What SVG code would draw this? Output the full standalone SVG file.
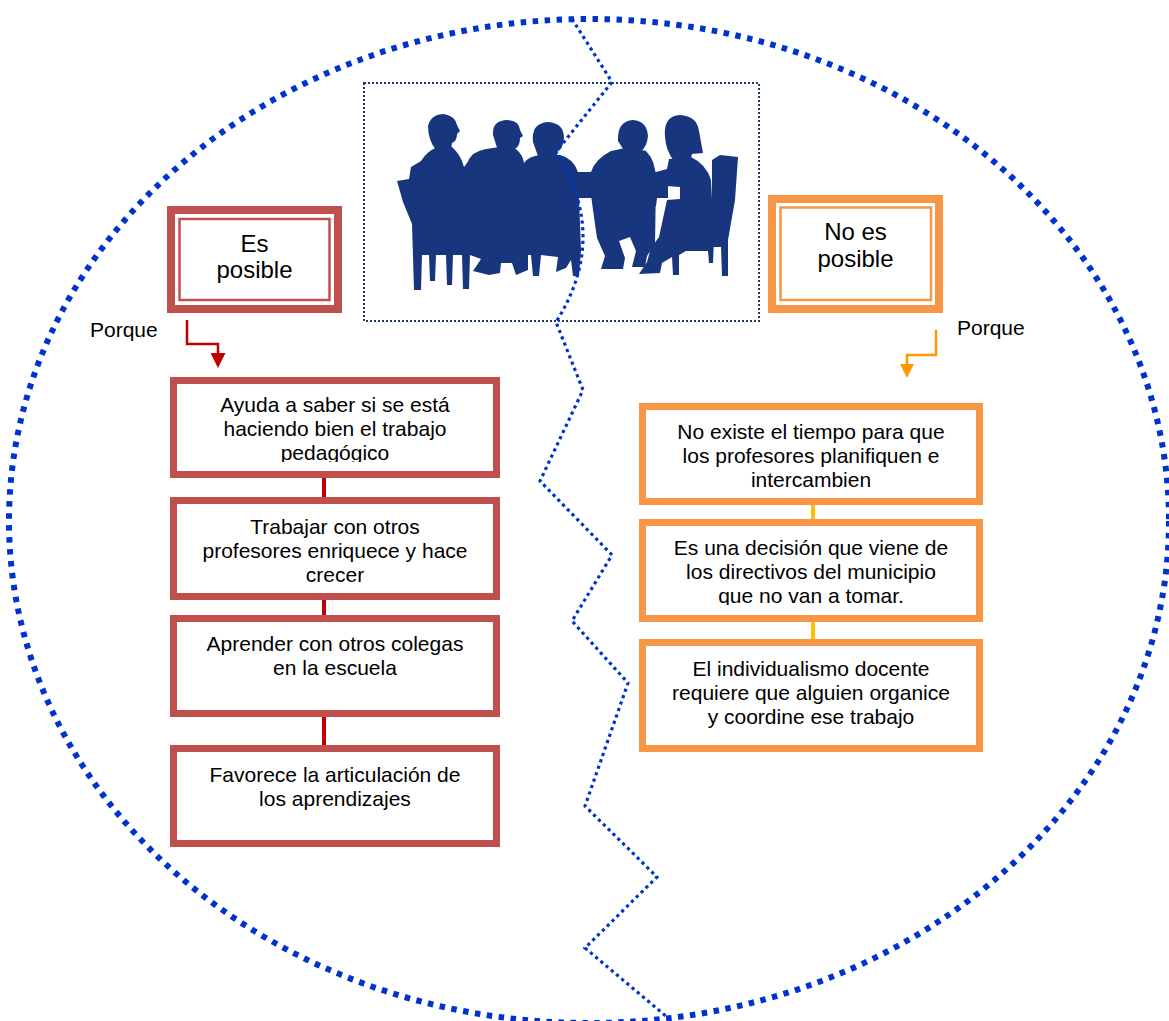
<svg xmlns="http://www.w3.org/2000/svg" width="1169" height="1021" viewBox="0 0 1169 1021">
  <defs>
    <style>
      .t{font-family:"Liberation Sans",Arial,sans-serif;font-size:21px;fill:#000;text-anchor:middle}
      .h{font-size:24px}
      .lbl{font-family:"Liberation Sans",Arial,sans-serif;font-size:21px;fill:#000}
      .bR{fill:#fff;stroke:#c0504d;stroke-width:7}
      .bO{fill:#fff;stroke:#f79646;stroke-width:7}
      .sil{fill:#18367e}
      .cR{stroke:#c00000;stroke-width:4;fill:none}
      .cO{stroke:#ffc000;stroke-width:4;fill:none}
    </style>
    <marker id="ahR" viewBox="0 0 10 10" refX="0" refY="5" markerWidth="15" markerHeight="15" markerUnits="userSpaceOnUse" orient="auto">
      <path d="M0,0 L10,5 L0,10 Z" fill="#c00000"/>
    </marker>
    <marker id="ahO" viewBox="0 0 10 10" refX="0" refY="5" markerWidth="15" markerHeight="14" markerUnits="userSpaceOnUse" orient="auto">
      <path d="M0,0 L10,5 L0,10 Z" fill="#ff9900"/>
    </marker>
    <clipPath id="clipA"><rect x="177" y="384" width="316" height="78"/></clipPath>
    <clipPath id="clipB"><rect x="646" y="526" width="330" height="79"/></clipPath>
  </defs>

  <rect width="1169" height="1021" fill="#fff"/>

  <!-- outer dotted ellipse -->
  <ellipse cx="589" cy="521" rx="580" ry="502" fill="none" stroke="#0033cc" stroke-width="6" stroke-dasharray="5.5 6.5"/>

  <!-- meeting picture -->
  <g id="picture">
    <g class="sil">
      <!-- heads -->
      <path d="M428,126 Q431,114 444,114 Q455,116 457,125 L460,131 L457,134 Q457,141 452,143 L451,150 L436,150 Q428,140 428,126 Z"/>
      <path d="M493,135 Q492,121 506,120 Q519,120 520,130 L523,136 L520,138 Q520,146 515,149 L514,154 L499,154 Z"/>
      <path d="M533,142 Q531,123 548,122 Q564,123 564,138 Q563,149 557,152 L557,159 L539,159 Z"/>
      <path d="M618,141 Q617,121 633,120 Q647,121 648,136 Q647,147 641,151 L625,152 Z"/>
      <path d="M665,137 Q663,116 680,115 Q697,116 699,131 L703,153 L692,154 L690,161 L674,161 Q666,151 665,137 Z"/>
      <!-- left group: three seated people and their chairs -->
      <path d="M397,181 L409,179 L411,167 L421,161 Q428,150 438,147 L452,147 Q461,155 464,167 L467,163 Q472,151 486,149 L500,147 L516,149 Q523,155 524,163 Q529,156 540,155 L560,155 Q573,158 578,172 L581,250 L579,276 L573,276 L571,260 L566,268 L556,272 L558,257 L541,255 L539,276 L533,276 L531,255 L528,255 L528,270 L516,275 L512,263 L501,263 L500,273 L489,275 L473,271 L481,259 L470,255 L469,289 L463,289 L462,255 L453,255 L452,285 L447,285 L446,255 L436,255 L435,281 L430,281 L429,255 L422,255 L421,290 L414,290 L412,224 L403,202 Z"/>
      <!-- table -->
      <path d="M576,172 L598,172 L600,167 L604,169 L606,172 L668,172 L668,198 L657,198 L656,206 L640,206 L639,198 L576,198 Z"/>
      <!-- person facing left -->
      <path d="M591,172 Q595,159 611,151 L630,147 L646,151 Q656,161 656,180 L655,244 L647,256 L645,267 L632,267 L636,251 L630,237 L619,241 L625,258 L623,269 L601,269 L605,256 L597,238 L593,210 L591,195 Z"/>
      <!-- woman and her chair -->
      <path d="M656,172 L667,169 L669,159 L691,157 Q706,164 711,180 L714,240 L713,263 L709,263 L708,251 L686,251 L679,255 L679,275 L673,275 L672,257 L662,263 L660,273 L639,274 L647,262 L651,248 L659,237 L667,200 L680,199 L680,187 L667,186 L657,180 Z"/>
      <path d="M712,160 L720,155 L738,157 L735,200 L728,240 L728,276 L722,276 L721,247 L712,247 Z"/>
    </g>
    <rect x="364" y="83" width="395" height="238" fill="none" stroke="#1f3864" stroke-width="2" stroke-dasharray="2 2"/>
  </g>

  <!-- dividing zigzag line -->
  <path d="M572,19 L612,82 L556,152 Q610,237 556,322 L583,390 L540,481 L612,555 L572,621 L628,683 L585,806 L657,877 L585,948 L667,1017" fill="none" stroke="#0033cc" stroke-width="3.2" stroke-dasharray="3.2 3.6"/>

  <g id="connectors">
    <path d="M187,320 V344 H218 V353" fill="none" stroke="#c00000" stroke-width="2.5" marker-end="url(#ahR)"/>
    <path d="M936,330 V355 H907 V364" fill="none" stroke="#ff9900" stroke-width="2.5" marker-end="url(#ahO)"/>
    <line class="cR" x1="324" y1="478" x2="324" y2="497"/>
    <line class="cR" x1="324" y1="600" x2="324" y2="615"/>
    <line class="cR" x1="324" y1="717" x2="324" y2="745"/>
    <line class="cO" x1="813" y1="505" x2="813" y2="519"/>
    <line class="cO" x1="813" y1="622" x2="813" y2="639"/>
  </g>

  <g id="es-posible">
    <rect x="171" y="210" width="167" height="99" fill="#fff" stroke="#c0504d" stroke-width="8"/>
    <rect x="179.5" y="219" width="150" height="81" fill="none" stroke="#c0504d" stroke-width="2.5"/>
    <text class="t h" x="254.5" y="252">Es</text>
    <text class="t h" x="254.5" y="278">posible</text>
  </g>

  <g id="no-es-posible">
    <rect x="772" y="199" width="167" height="110" fill="#fff" stroke="#f79646" stroke-width="8"/>
    <rect x="780.5" y="207.5" width="150.5" height="92.5" fill="none" stroke="#f79646" stroke-width="2.5"/>
    <text class="t h" x="855.5" y="240">No es</text>
    <text class="t h" x="855.5" y="267">posible</text>
  </g>

  <g id="porque-si">
    <text class="lbl" x="90" y="337">Porque</text>
  </g>
  <g id="porque-no">
    <text class="lbl" x="957" y="335">Porque</text>
  </g>

  <g id="razon-si-1">
    <rect class="bR" x="173.5" y="380.5" width="323" height="94"/>
    <g clip-path="url(#clipA)">
      <text class="t" x="335" y="412">Ayuda a saber si se está</text>
      <text class="t" x="335" y="436">haciendo bien el trabajo</text>
      <text class="t" x="335" y="460">pedagógico</text>
    </g>
  </g>
  <g id="razon-si-2">
    <rect class="bR" x="173.5" y="500.5" width="323" height="96"/>
    <text class="t" x="335" y="534">Trabajar con otros</text>
    <text class="t" x="335" y="558">profesores enriquece y hace</text>
    <text class="t" x="335" y="582">crecer</text>
  </g>
  <g id="razon-si-3">
    <rect class="bR" x="173.5" y="618.5" width="323" height="95"/>
    <text class="t" x="335" y="651">Aprender con otros colegas</text>
    <text class="t" x="335" y="675">en la escuela</text>
  </g>
  <g id="razon-si-4">
    <rect class="bR" x="173.5" y="748.5" width="323" height="95"/>
    <text class="t" x="335" y="782">Favorece la articulación de</text>
    <text class="t" x="335" y="806">los aprendizajes</text>
  </g>

  <g id="razon-no-1">
    <rect class="bO" x="642.5" y="406.5" width="337" height="95"/>
    <text class="t" x="811" y="439">No existe el tiempo para que</text>
    <text class="t" x="811" y="463">los profesores planifiquen e</text>
    <text class="t" x="811" y="487">intercambien</text>
  </g>
  <g id="razon-no-2">
    <rect class="bO" x="642.5" y="522.5" width="337" height="96"/>
    <g clip-path="url(#clipB)">
      <text class="t" x="811" y="555">Es una decisión que viene de</text>
      <text class="t" x="811" y="579">los directivos del municipio</text>
      <text class="t" x="811" y="603">que no van a tomar.</text>
    </g>
  </g>
  <g id="razon-no-3">
    <rect class="bO" x="642.5" y="642.5" width="337" height="106"/>
    <text class="t" x="811" y="676">El individualismo docente</text>
    <text class="t" x="811" y="700">requiere que alguien organice</text>
    <text class="t" x="811" y="724">y coordine ese trabajo</text>
  </g>
</svg>
